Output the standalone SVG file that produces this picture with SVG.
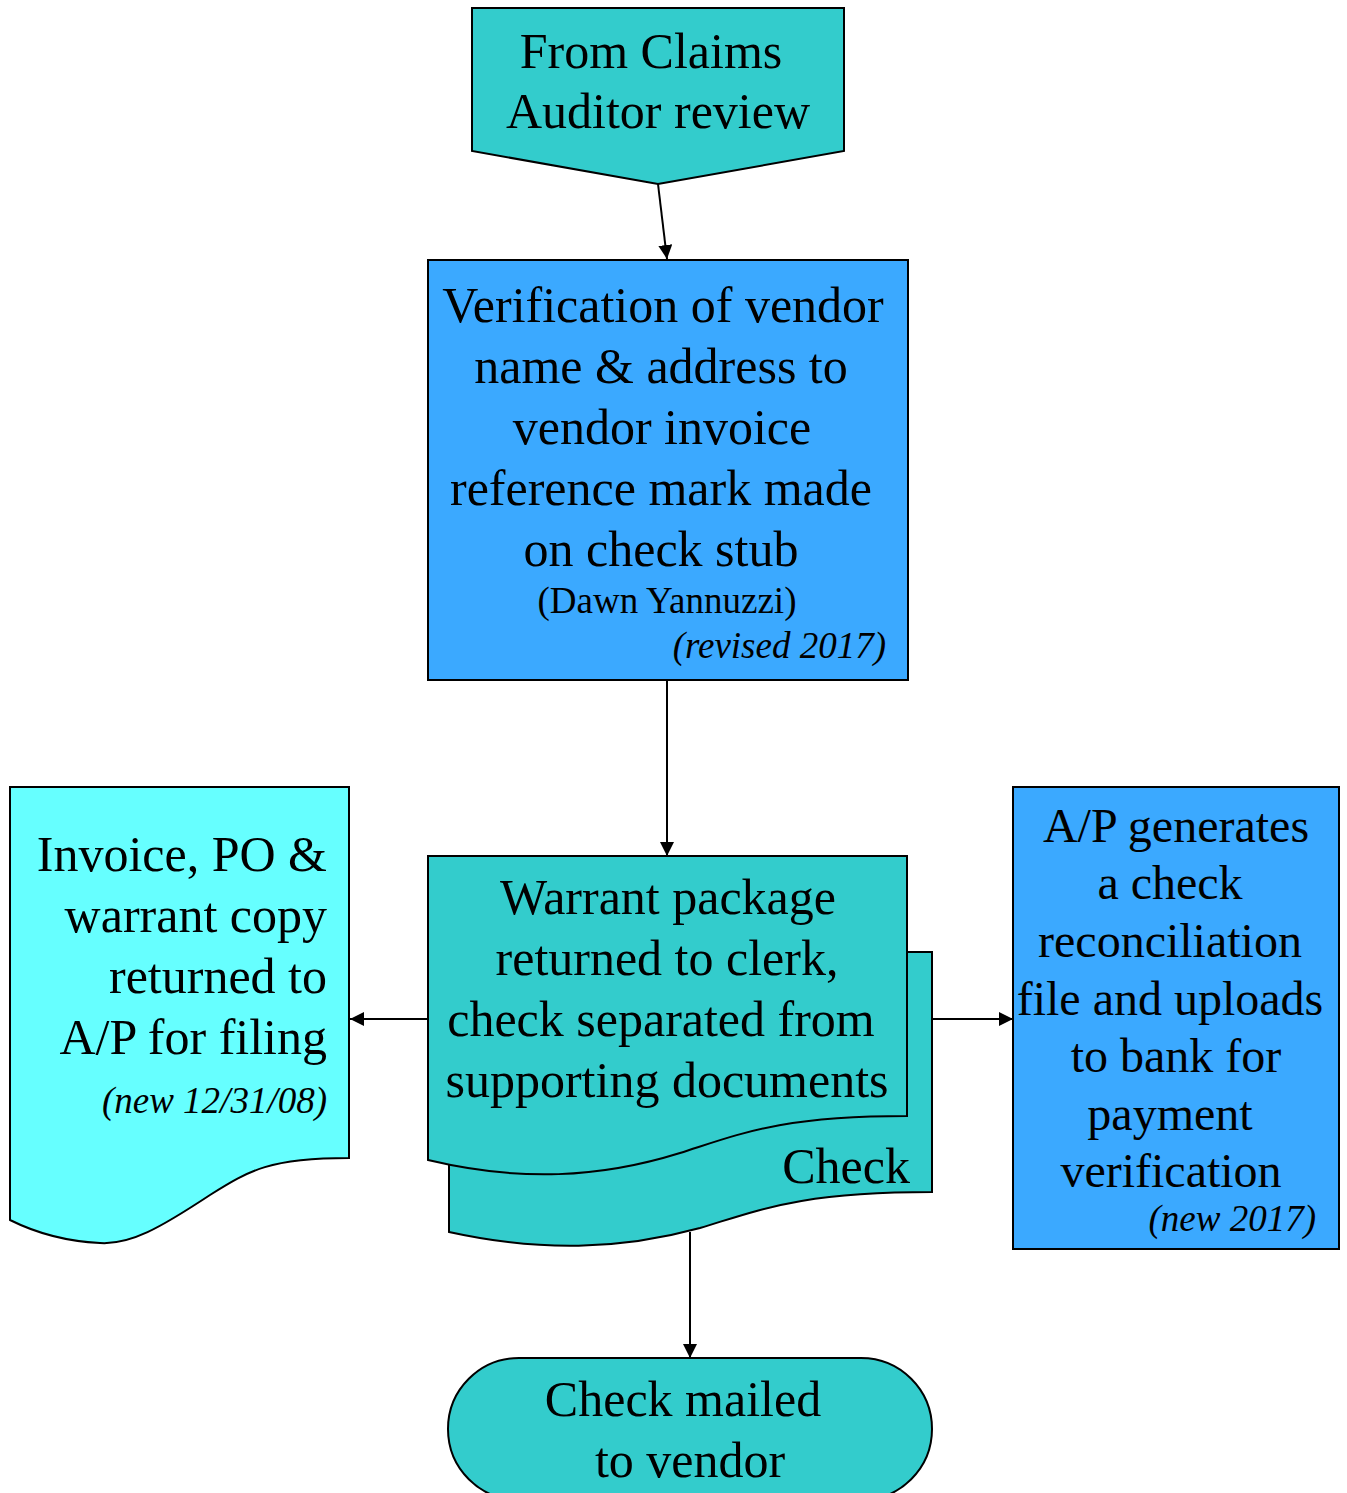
<svg xmlns="http://www.w3.org/2000/svg" width="1347" height="1493" viewBox="0 0 1347 1493">
<style>
text{font-family:"Liberation Serif","Times New Roman",serif;fill:#000}
.t{font-size:50px}
.r{font-size:48px}
.s{font-size:37px}
.i{font-size:37px;font-style:italic}
.m{text-anchor:middle}
.e{text-anchor:end}
.shape{stroke:#000;stroke-width:2}
.teal{fill:#33CCCC}
.blue{fill:#3BA9FF}
.cyan{fill:#66FFFF}
</style>
<defs>
<marker id="ah2" viewBox="0 0 10 10" refX="10" refY="5" markerWidth="14" markerHeight="14" markerUnits="userSpaceOnUse" orient="auto">
<path d="M0,0 L10,5 L0,10 z" fill="#000"/>
</marker>
</defs>
<rect width="1347" height="1493" fill="#fff"/>

<g id="connectors" stroke="#000" stroke-width="2" marker-end="url(#ah2)">
<line x1="658" y1="184" x2="667" y2="259"/>
<line x1="667" y1="680" x2="667" y2="856"/>
<line x1="428" y1="1019" x2="350" y2="1019"/>
<line x1="907" y1="1019" x2="1013" y2="1019"/>
<line x1="690" y1="1232" x2="690" y2="1358"/>
</g>

<g id="node-from-claims">
<path class="shape teal" d="M472,8 L844,8 L844,151 L658,184 L472,151 Z"/>
<text class="t m" x="651" y="68">From Claims</text>
<text class="t m" x="658" y="128">Auditor review</text>
</g>

<g id="node-verification">
<rect class="shape blue" x="428" y="260" width="480" height="420"/>
<text class="t m" x="663" y="322">Verification of vendor</text>
<text class="t m" x="661" y="383">name &amp; address to</text>
<text class="t m" x="662" y="444">vendor invoice</text>
<text class="t m" x="661" y="505">reference mark made</text>
<text class="t m" x="661" y="566">on check stub</text>
<text class="s m" x="667" y="613">(Dawn Yannuzzi)</text>
<text class="i e" x="886" y="658">(revised 2017)</text>
</g>

<g id="node-warrant">
<path class="shape teal" d="M449,952 L932,952 L932,1192 C800,1192 760,1210 700,1228 C620,1250 540,1252 449,1232 Z"/>
<text class="t e" x="910" y="1183">Check</text>
<path class="shape teal" d="M428,856 L907,856 L907,1116 C780,1116 740,1134 680,1153 C600,1178 520,1182 428,1160 Z"/>
<text class="t m" x="668" y="914">Warrant package</text>
<text class="t m" x="667" y="975">returned to clerk,</text>
<text class="t m" x="661" y="1036">check separated from</text>
<text class="t m" x="667" y="1097">supporting documents</text>
</g>

<g id="node-invoice">
<path class="shape cyan" d="M10,787 L349,787 L349,1158 C270,1158 250,1170 210,1195 C160,1228 130,1245 100,1243 C60,1241 30,1230 10,1220 Z"/>
<text class="t e" x="327" y="871">Invoice, PO &amp;</text>
<text class="t e" x="327" y="932">warrant copy</text>
<text class="t e" x="327" y="993">returned to</text>
<text class="t e" x="327" y="1054">A/P for filing</text>
<text class="i e" x="327" y="1113">(new 12/31/08)</text>
</g>

<g id="node-ap">
<rect class="shape blue" x="1013" y="787" width="326" height="462"/>
<text class="r m" x="1176" y="842">A/P generates</text>
<text class="r m" x="1170" y="899">a check</text>
<text class="r m" x="1170" y="957">reconciliation</text>
<text class="r m" x="1170" y="1015">file and uploads</text>
<text class="r m" x="1176" y="1072">to bank for</text>
<text class="r m" x="1170" y="1130">payment</text>
<text class="r m" x="1171" y="1187">verification</text>
<text class="i e" x="1316" y="1231">(new 2017)</text>
</g>

<g id="node-mailed">
<rect class="shape teal" x="448" y="1358" width="484" height="142" rx="71" ry="71"/>
<text class="t m" x="683" y="1416">Check mailed</text>
<text class="t m" x="690" y="1477">to vendor</text>
</g>
</svg>
